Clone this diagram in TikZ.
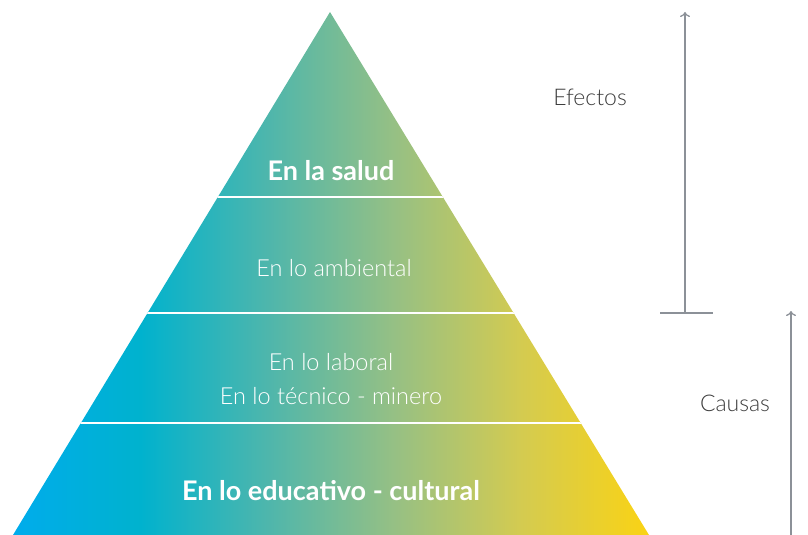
\documentclass[tikz,border=0pt]{standalone}
\usepackage{fontspec}
\setmainfont{Lato}
\newfontfamily\lightfont{Lato Light}
\usetikzlibrary{arrows.meta}
\definecolor{g1}{RGB}{0,172,236}
\definecolor{g2}{RGB}{0,178,206}
\definecolor{g3}{RGB}{78,182,172}
\definecolor{g4}{RGB}{150,192,132}
\definecolor{g5}{RGB}{212,203,80}
\definecolor{g6}{RGB}{250,211,20}
\definecolor{arrowgray}{RGB}{140,145,152}
\definecolor{labelgray}{RGB}{60,60,60}
\pgfdeclarehorizontalshading{pyrshade}{100bp}{color(0bp)=(g1); color(25bp)=(g1); color(35bp)=(g2); color(45bp)=(g3); color(55bp)=(g4); color(65bp)=(g5); color(75bp)=(g6); color(100bp)=(g6)}
\tikzset{
  boldtext/.style={text=white, font=\bfseries\fontsize{27}{30}\selectfont, inner sep=0pt},
  lighttext/.style={text=white, font=\lightfont\fontsize{23.5}{34}\selectfont, inner sep=0pt, align=center},
  sidelabel/.style={text=labelgray, font=\lightfont\fontsize{23}{26}\selectfont, inner sep=0pt},
  divider/.style={draw=white, line width=2pt},
  axisarrow/.style={draw=arrowgray, line width=1.3pt, -{To[length=5pt,width=10pt]}},
  axisline/.style={draw=arrowgray, line width=1.3pt}
}
\begin{document}
\begin{tikzpicture}[x=1pt,y=-1pt]
\useasboundingbox (0,0) rectangle (808,535);
% pyramid
\coordinate (bl) at (13,535);
\coordinate (ap) at (330,12);
\coordinate (br) at (649,535);
\shade[shading=pyrshade] (bl) -- (ap) -- (br) -- cycle;
\begin{scope}
  \clip (bl) -- (ap) -- (br) -- cycle;
  \draw[divider] (0,197) -- (808,197);
  \draw[divider] (0,313) -- (808,313);
  \draw[divider] (0,423) -- (808,423);
\end{scope}
% texts
\node[boldtext] (salud) at (331,171) {En la salud};
\node[lighttext] (amb) at (334,268) {En lo ambiental};
\node[lighttext] (lab) at (331,379) {En lo laboral\\En lo técnico - minero};
\node[boldtext] (edu) at (331,491) {En lo educativo - cultural};
% arrows
\coordinate (efbot) at (685,313);
\coordinate (eftop) at (685,12);
\coordinate (barl) at (660,313);
\coordinate (barr) at (713,313);
\coordinate (cabot) at (791,535);
\coordinate (catop) at (791,311);
\draw[axisarrow] (efbot) -- (eftop);
\draw[axisline] (barl) -- (barr);
\draw[axisarrow] (cabot) -- (catop);
\node[sidelabel] (efectos) at (590,97) {Efectos};
\node[sidelabel] (causas) at (735,403) {Causas};
\end{tikzpicture}
\end{document}
